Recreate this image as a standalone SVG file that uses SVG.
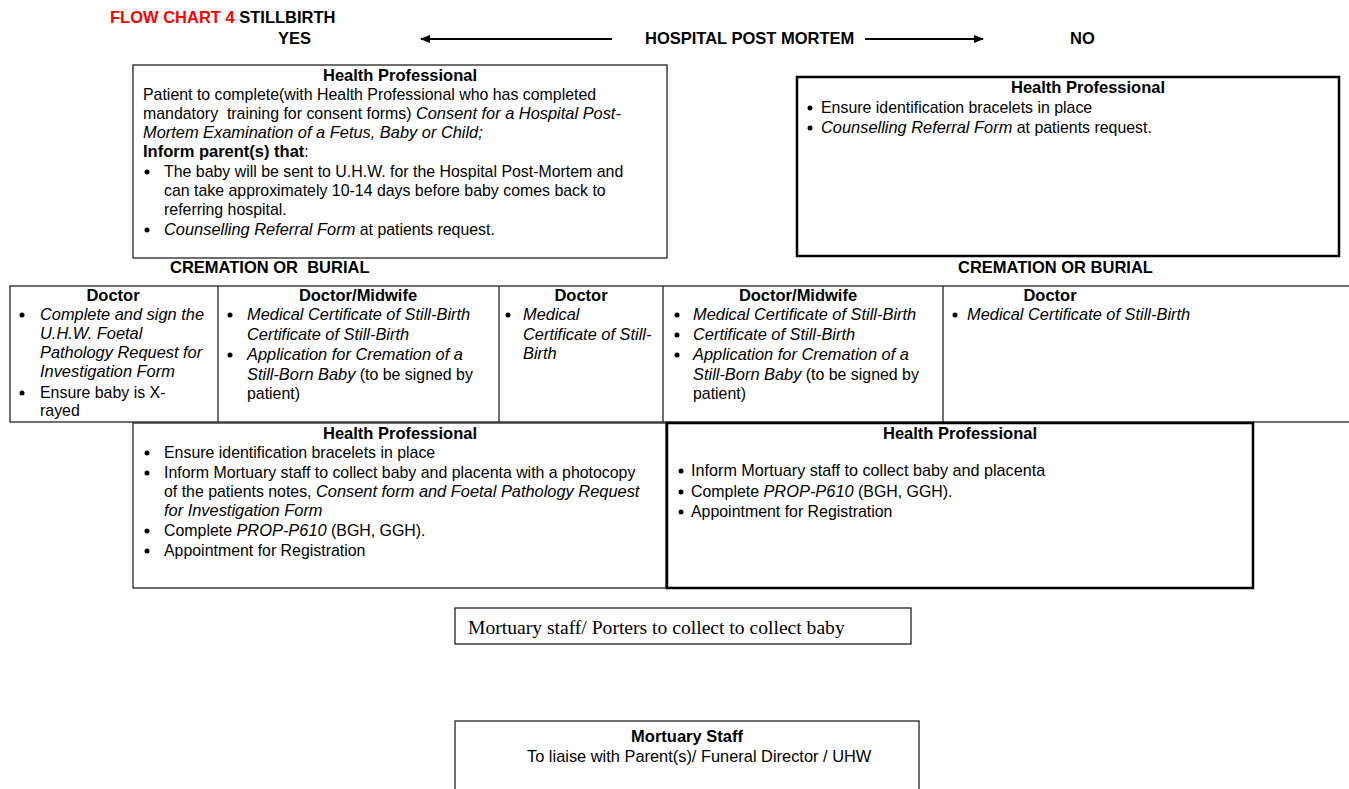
<svg xmlns="http://www.w3.org/2000/svg" width="1349" height="789" viewBox="0 0 1349 789">
<style>
text{font-family:"Liberation Sans",Arial,sans-serif;font-size:15.9px;fill:#000}
.b{font-weight:bold;font-size:16.5px}
.i{font-style:italic;font-size:16.4px}
.h{font-weight:bold;font-size:16.5px;text-anchor:middle}
.red{fill:#ff0000}
.serif{font-family:"Liberation Serif","Times New Roman",serif;font-size:19.6px}
.box{fill:#fff;stroke:#222;stroke-width:1.3}
.bx2{fill:#fff;stroke:#000;stroke-width:2.5}
.dot{fill:#000}
.ln{stroke:#000;stroke-width:1.8;fill:none}
.grid{stroke:#222;stroke-width:1.3}
</style>
<defs>
<marker id="ah" markerWidth="10" markerHeight="8" refX="9" refY="4" orient="auto" markerUnits="userSpaceOnUse">
<path d="M0,0 L10,4 L0,8 Z" fill="#000"/>
</marker>
</defs>

<g id="title">
<text x="110" y="23" class="b"><tspan class="red">FLOW CHART 4 </tspan>STILLBIRTH</text>
<text x="278" y="44" class="b">YES</text>
<text x="645" y="44" class="b">HOSPITAL POST MORTEM</text>
<text x="1070" y="44" class="b">NO</text>
</g>

<g id="connectors">
<line class="ln" x1="612" y1="39" x2="421" y2="39" marker-end="url(#ah)"/>
<line class="ln" x1="865" y1="39" x2="983" y2="39" marker-end="url(#ah)"/>
</g>

<g id="hp-yes">
<rect class="box" x="133" y="65" width="534" height="193"/>
<text x="400" y="81" class="h">Health Professional</text>
<text x="143" y="100">Patient to complete(with Health Professional who has completed</text>
<text x="143" y="119" xml:space="preserve">mandatory  training for consent forms) <tspan class="i">Consent for a Hospital Post-</tspan></text>
<text x="143" y="138" class="i">Mortem Examination of a Fetus, Baby or Child;</text>
<text x="143" y="157"><tspan class="b">Inform parent(s) that</tspan>:</text>
<circle class="dot" cx="147" cy="172" r="2.5"/>
<text x="164" y="177">The baby will be sent to U.H.W. for the Hospital Post-Mortem and</text>
<text x="164" y="196">can take approximately 10-14 days before baby comes back to</text>
<text x="164" y="215">referring hospital.</text>
<circle class="dot" cx="147" cy="230" r="2.5"/>
<text x="164" y="235"><tspan class="i">Counselling Referral Form</tspan> at patients request.</text>
</g>

<g id="hp-no">
<rect class="bx2" x="797" y="77" width="542" height="179"/>
<text x="1088" y="93" class="h">Health Professional</text>
<circle class="dot" cx="810" cy="108" r="2.5"/>
<text x="821" y="113">Ensure identification bracelets in place</text>
<circle class="dot" cx="810" cy="128" r="2.5"/>
<text x="821" y="133"><tspan class="i">Counselling Referral Form</tspan> at patients request.</text>
</g>

<g id="labels">
<text x="170" y="273" class="b" xml:space="preserve">CREMATION OR  BURIAL</text>
<text x="958" y="273" class="b">CREMATION OR BURIAL</text>
</g>

<g id="row">
<rect class="box" x="10" y="286" width="1360" height="136"/>
<line class="grid" x1="218" y1="286" x2="218" y2="422"/>
<line class="grid" x1="499" y1="286" x2="499" y2="422"/>
<line class="grid" x1="663" y1="286" x2="663" y2="422"/>
<line class="grid" x1="943" y1="286" x2="943" y2="422"/>
</g>

<g id="cell-doctor-1">
<text x="113" y="301" class="h">Doctor</text>
<circle class="dot" cx="22" cy="315" r="2.5"/>
<text x="40" y="320" class="i">Complete and sign the</text>
<text x="40" y="339" class="i">U.H.W. Foetal</text>
<text x="40" y="358" class="i">Pathology Request for</text>
<text x="40" y="377" class="i">Investigation Form</text>
<circle class="dot" cx="22" cy="393" r="2.5"/>
<text x="40" y="398">Ensure baby is X-</text>
<text x="40" y="416">rayed</text>
</g>

<g id="cell-midwife-1">
<text x="358" y="301" class="h">Doctor/Midwife</text>
<circle class="dot" cx="230" cy="315" r="2.5"/>
<text x="247" y="320" class="i">Medical Certificate of Still-Birth</text>
<text x="247" y="340" class="i">Certificate of Still-Birth</text>
<circle class="dot" cx="230" cy="355" r="2.5"/>
<text x="247" y="360" class="i">Application for Cremation of a</text>
<text x="247" y="380"><tspan class="i">Still-Born Baby</tspan> (to be signed by</text>
<text x="247" y="399">patient)</text>
</g>

<g id="cell-doctor-2">
<text x="581" y="301" class="h">Doctor</text>
<circle class="dot" cx="508" cy="315" r="2.5"/>
<text x="523" y="320" class="i">Medical</text>
<text x="523" y="340" class="i">Certificate of Still-</text>
<text x="523" y="359" class="i">Birth</text>
</g>

<g id="cell-midwife-2">
<text x="798" y="301" class="h">Doctor/Midwife</text>
<circle class="dot" cx="677" cy="315" r="2.5"/>
<text x="693" y="320" class="i">Medical Certificate of Still-Birth</text>
<circle class="dot" cx="677" cy="335" r="2.5"/>
<text x="693" y="340" class="i">Certificate of Still-Birth</text>
<circle class="dot" cx="677" cy="355" r="2.5"/>
<text x="693" y="360" class="i">Application for Cremation of a</text>
<text x="693" y="380"><tspan class="i">Still-Born Baby</tspan> (to be signed by</text>
<text x="693" y="399">patient)</text>
</g>

<g id="cell-doctor-3">
<text x="1050" y="301" class="h">Doctor</text>
<circle class="dot" cx="955" cy="315" r="2.5"/>
<text x="967" y="320" class="i">Medical Certificate of Still-Birth</text>
</g>

<g id="hp-bottom-left">
<rect class="box" x="133" y="423" width="533" height="165"/>
<text x="400" y="439" class="h">Health Professional</text>
<circle class="dot" cx="147" cy="453" r="2.5"/>
<text x="164" y="458">Ensure identification bracelets in place</text>
<circle class="dot" cx="147" cy="473" r="2.5"/>
<text x="164" y="478">Inform Mortuary staff to collect baby and placenta with a photocopy</text>
<text x="164" y="497">of the patients notes, <tspan class="i">Consent form and Foetal Pathology Request</tspan></text>
<text x="164" y="516" class="i">for Investigation Form</text>
<circle class="dot" cx="147" cy="531" r="2.5"/>
<text x="164" y="536">Complete <tspan class="i">PROP-P610</tspan> (BGH, GGH).</text>
<circle class="dot" cx="147" cy="551" r="2.5"/>
<text x="164" y="556">Appointment for Registration</text>
</g>

<g id="hp-bottom-right">
<rect class="bx2" x="667" y="423" width="586" height="165" stroke-width="2"/>
<text x="960" y="439" class="h">Health Professional</text>
<circle class="dot" cx="681" cy="471" r="2.5"/>
<text x="691" y="476" style="font-size:16.2px">Inform Mortuary staff to collect baby and placenta</text>
<circle class="dot" cx="681" cy="492" r="2.5"/>
<text x="691" y="497">Complete <tspan class="i">PROP-P610</tspan> (BGH, GGH).</text>
<circle class="dot" cx="681" cy="512" r="2.5"/>
<text x="691" y="517">Appointment for Registration</text>
</g>

<g id="porters">
<rect class="box" x="455" y="608" width="456" height="36"/>
<text x="468" y="634" class="serif">Mortuary staff/ Porters to collect to collect baby</text>
</g>

<g id="mortuary-staff">
<rect class="box" x="455" y="721" width="464" height="80"/>
<text x="687" y="742" class="h">Mortuary Staff</text>
<text x="527" y="762" style="font-size:16.4px">To liaise with Parent(s)/ Funeral Director / UHW</text>
</g>
</svg>
